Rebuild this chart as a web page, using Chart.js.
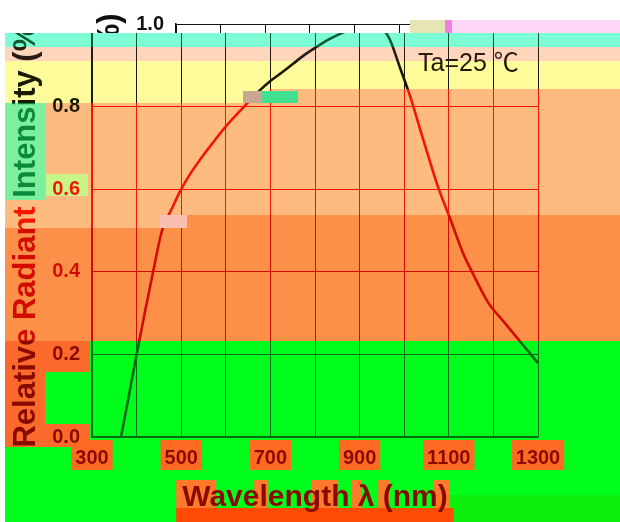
<!DOCTYPE html>
<html>
<head>
<meta charset="utf-8">
<script src="https://cdn.jsdelivr.net/npm/chart.js@4.4.1/dist/chart.umd.min.js"></script>
<style>
  html, body { margin: 0; padding: 0; background: #fff; }
  canvas { display: block; }
</style>
</head>
<body>
<canvas id="chart" width="620" height="522"></canvas>
<script>
// spectrum
const wavelength = [365, 380, 400, 420, 437, 457, 480, 500, 525, 550, 575, 600, 625, 650, 675, 700,
  725, 750, 775, 800, 830, 860, 890, 925, 950, 968, 990, 1013, 1040, 1076, 1103, 1132, 1152,
  1188, 1225, 1260, 1300];
const intensity = [0.00, 0.085, 0.20, 0.31, 0.40, 0.50, 0.555, 0.60, 0.645, 0.683, 0.718, 0.752,
  0.782, 0.81, 0.838, 0.862, 0.882, 0.903, 0.924, 0.942, 0.962, 0.978, 0.99, 1.0, 0.99, 0.962,
  0.896, 0.826, 0.73, 0.605, 0.529, 0.445, 0.40, 0.326, 0.277, 0.231, 0.179];
const xLabels = [300, 500, 700, 900, 1100, 1300];
const noteText = 'Ta=25 ℃';

const W = 620, H = 522;
const FONT = '"Liberation Sans", Arial, "Noto Sans CJK SC", sans-serif';
Chart.defaults.font.family = FONT;

// the picture has a torn top strip that is slid to the right
const stripH = 33, stripShift = 84;

// background bands, painted in order: [x0, y0, x1, y1, colour]
const bgRects = [
  [5, 33, 620, 47, '#7dfdd5'],
  [5, 47, 620, 61, '#fdd6bb'],
  [5, 61, 620, 103, '#fefc9a'],
  [5, 103, 620, 228, '#fdbb7f'],
  [270, 89, 620, 103, '#fdbb7f'],
  [5, 228, 620, 341, '#fd9048'],
  [173, 215, 620, 228, '#fd9048'],
  [5, 341, 620, 522, '#00fe1c'],
  [450, 495, 620, 522, '#0af00c'],
  [5, 103, 45, 200, '#7cf09c'],
  [46, 174, 88, 196, '#c8f58a'],
  [5, 341, 45, 447, '#fb6a2a'],
  [40, 341, 90, 372, '#fb6a2a'],
  [40, 424, 90, 447, '#fb6a2a']
];

// colour the ink takes inside each region, later ones win
const inkRects = [
  [0, 0, 620, 522, '#111'],
  [0, 33, 620, 47, '#0b5a30'],
  [0, 47, 620, 61, '#2a1a10'],
  [0, 61, 620, 103, '#1a1a00'],
  [0, 103, 620, 228, '#f31600'],
  [270, 89, 620, 103, '#f31600'],
  [0, 228, 620, 341, '#d20c00'],
  [173, 215, 620, 228, '#d20c00'],
  [0, 341, 620, 522, '#8a0a00'],
  [88, 341, 541, 440, '#0a6a12'],
  [5, 103, 45, 200, '#0a8a3a'],
  [45, 88, 90, 114, '#1a1a00']
];

// small blotches laid over everything
const topRects = [
  [410, 20, 445, 33, '#e6e6b4'],
  [445, 20, 452, 33, '#f47ee8'],
  [452, 20, 620, 33, '#fdd5f5'],
  [243, 91, 262, 103, '#c8a890'],
  [262, 91, 298, 103, '#40e090'],
  [160, 215, 187, 228, '#f8c0b0']
];

const notePlugin = {
  id: 'note',
  afterDatasetsDraw(chart) {
    const { ctx, scales } = chart;
    ctx.save();
    ctx.font = '25px ' + FONT;
    ctx.fillStyle = '#000';
    ctx.textAlign = 'left';
    ctx.textBaseline = 'alphabetic';
    ctx.fillText(noteText, scales.x.getPixelForValue(1031), scales.y.getPixelForValue(0.887));
    ctx.restore();
  }
};

function fillRects(ctx, list) {
  list.forEach(([x0, y0, x1, y1, c]) => {
    ctx.fillStyle = c;
    ctx.fillRect(x0, y0, x1 - x0, y1 - y0);
  });
}

const glitchPlugin = {
  id: 'glitch',
  afterDraw(chart) {
    const ctx = chart.ctx;
    const ink = document.createElement('canvas');
    ink.width = W; ink.height = H;
    const ictx = ink.getContext('2d');
    ictx.drawImage(chart.canvas, 0, 0);

    // slide the top strip
    const strip = document.createElement('canvas');
    strip.width = W; strip.height = stripH;
    strip.getContext('2d').drawImage(ink, 0, 0, W, stripH, 0, 0, W, stripH);
    ictx.clearRect(0, 0, W, stripH);
    ictx.drawImage(strip, stripShift, 0);

    // recolour the ink band by band
    ictx.globalCompositeOperation = 'source-atop';
    fillRects(ictx, inkRects);

    ctx.save();
    ctx.setTransform(1, 0, 0, 1, 0, 0);
    ctx.globalCompositeOperation = 'source-over';
    ctx.clearRect(0, 0, W, H);
    ctx.fillStyle = '#fff';
    ctx.fillRect(0, 0, W, H);
    fillRects(ctx, bgRects);

    // orange blocks behind the x labels and title
    const xs = chart.scales.x;
    ctx.font = 'bold 20px ' + FONT;
    xLabels.forEach(v => {
      const px = xs.getPixelForValue(v);
      const w = ctx.measureText(String(v)).width;
      ctx.fillStyle = '#ff6a22';
      ctx.fillRect(px - w / 2 - 4, xs.top + 3, w + 8, 30);
    });
    ctx.font = 'bold 30px ' + FONT;
    const tw = ctx.measureText(xs.options.title.text).width;
    const tx = (xs.left + xs.right) / 2 - tw / 2 - 6;
    ctx.fillStyle = '#ff7a2a';
    [[0, 40], [78, 14], [135, 27], [175, 10], [202, 11], [257, 16]].forEach(([o, w]) => {
      ctx.fillRect(tx + o, 480, w, 28);
    });
    ctx.fillStyle = '#ff4a08';
    ctx.fillRect(tx, 508, tw + 12, 14);

    ctx.drawImage(ink, 0, 0);
    fillRects(ctx, topRects);
    ctx.restore();
  }
};

new Chart(document.getElementById('chart'), {
  type: 'line',
  data: {
    datasets: [{
      data: wavelength.map((w, i) => ({ x: w, y: intensity[i] })),
      borderColor: '#000',
      borderWidth: 2.6,
      pointRadius: 0,
      cubicInterpolationMode: 'monotone',
      fill: false
    }]
  },
  options: {
    responsive: false,
    animation: false,
    devicePixelRatio: 1,
    layout: { padding: { top: 17, right: 82, left: 0, bottom: 0 } },
    plugins: { legend: { display: false }, tooltip: { enabled: false } },
    scales: {
      x: {
        type: 'linear',
        min: 300,
        max: 1300,
        afterFit: s => { s.height = 85; },
        ticks: {
          stepSize: 100,
          autoSkip: false,
          maxRotation: 0,
          padding: 9,
          color: '#000',
          font: { size: 20, weight: 'bold' },
          callback: v => (xLabels.includes(v) ? String(v) : '')
        },
        grid: { color: '#000', lineWidth: 1, drawTicks: false },
        border: { color: '#000', width: 1.5 },
        title: {
          display: true,
          text: 'Wavelength λ (nm)',
          color: '#000',
          font: { size: 30, weight: 'bold' },
          padding: { top: 0, bottom: 6 }
        }
      },
      y: {
        min: 0,
        max: 1,
        afterFit: s => { s.width = 92; },
        ticks: {
          stepSize: 0.2,
          padding: 12,
          color: '#000',
          font: { size: 20, weight: 'bold' },
          callback: v => v.toFixed(1)
        },
        grid: { color: '#000', lineWidth: 1, drawTicks: false },
        border: { color: '#000', width: 1.5 },
        title: {
          display: true,
          text: 'Relative Radiant Intensity (%)',
          color: '#000',
          font: { size: 31, weight: 'bold' },
          padding: { top: 8, bottom: 0 }
        }
      }
    }
  },
  plugins: [notePlugin, glitchPlugin]
});
</script>
</body>
</html>
